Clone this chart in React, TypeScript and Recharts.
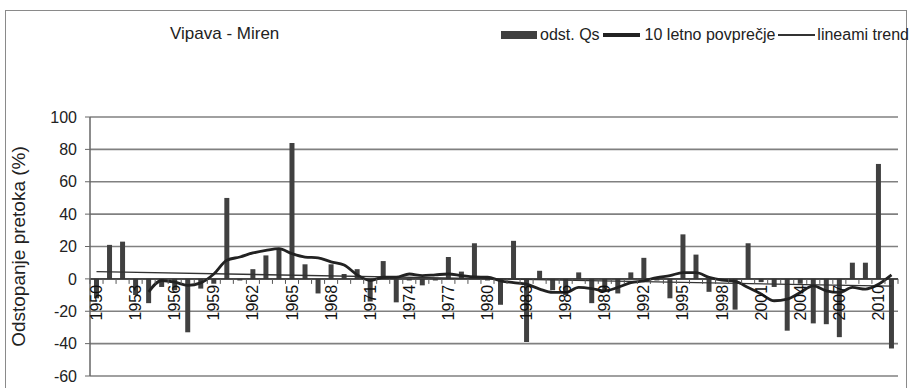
import React from 'react';
import { ComposedChart, Bar, Line, XAxis, YAxis, CartesianGrid, ReferenceLine } from 'recharts';

const years = [
  1950, 1951, 1952, 1953, 1954, 1955, 1956, 1957, 1958, 1959,
  1960, 1961, 1962, 1963, 1964, 1965, 1966, 1967, 1968, 1969,
  1970, 1971, 1972, 1973, 1974, 1975, 1976, 1977, 1978, 1979,
  1980, 1981, 1982, 1983, 1984, 1985, 1986, 1987, 1988, 1989,
  1990, 1991, 1992, 1993, 1994, 1995, 1996, 1997, 1998, 1999,
  2000, 2001, 2002, 2003, 2004, 2005, 2006, 2007, 2008, 2009,
  2010, 2011,
];

// odst. Qs (%)
const deviation = [
  -12, 21, 23, -10, -15, -5, -7, -33, -6, -3,
  50, -1, 6, 14.5, 18, 84, 9, -9, 9, 3,
  6, -14, 11, -14.5, -1, -4, -1, 13.5, 4.5, 22,
  -1, -16, 23.5, -39, 5, -7, -10, 4, -15, -8,
  -9, 4, 13, -1, -12, 27.5, 15, -8, -1, -19,
  22, -2, -5, -32, -3, -27.5, -28, -36, 10, 10,
  71, -43,
];

// 10 letno povprečje
const movingAvg = [
  null, null, null, null, -8, -1, -2, -4, -2.5, 3,
  11.5, 13.5, 16, 17.6, 18.7, 15.6, 13.5, 13, 10.5, 8.6,
  2.5, -1, 1, 1, 3, 2, 2.5, 3, 2, 1.2,
  1, -1.2, -2.3, -3.3, -6.3, -8.4, -8.4, -5.3, -6, -7.4,
  -5.3, -2.3, -1.2, 0.8, 2, 3.9, 3.9, 1, -0.8, -1.6,
  -5.3, -9.4, -13.5, -12.5, -8.4, -4.3, -7.4, -8.4, -5.3, -6.3,
  -3.3, 2.5,
];

// linearni trend, end points
const trendStart = 4.5;
const trendEnd = -4.5;

const yTicks = [-60, -40, -20, 0, 20, 40, 60, 80, 100];

const data = years.map((year, i) => ({ year, qs: deviation[i], avg: movingAvg[i] }));

const FONT = '"Liberation Sans", Arial, sans-serif';
const W = 920;
const H = 388;
const PLOT_TOP = 117;
const PLOT_BOTTOM = 376;
const PLOT_LEFT = 90;
const PLOT_RIGHT = 898;
const ZERO_Y = PLOT_TOP + ((PLOT_BOTTOM - PLOT_TOP) * 100) / 160;
const BAND = (PLOT_RIGHT - PLOT_LEFT) / years.length;

const YearTick = (props: any) => {
  const { x, payload } = props;
  const index = props.index ?? payload.index ?? 0;
  const left = x - BAND / 2;
  return (
    <g>
      <line x1={left} x2={left} y1={ZERO_Y} y2={ZERO_Y + 5} stroke="#555" strokeWidth={1} />
      {index === years.length - 1 && (
        <line x1={x + BAND / 2} x2={x + BAND / 2} y1={ZERO_Y} y2={ZERO_Y + 5} stroke="#555" strokeWidth={1} />
      )}
      {index % 3 === 0 && (
        <text
          transform={`translate(${x},${ZERO_Y + 6}) rotate(-90)`}
          textAnchor="end"
          dominantBaseline="central"
          fontSize={16}
          fontFamily={FONT}
          fill="#111"
        >
          {payload.value}
        </text>
      )}
    </g>
  );
};

export default function App() {
  return (
    <div style={{ position: 'absolute', left: 0, top: 0, width: W, height: H, overflow: 'hidden', background: '#fff', fontFamily: FONT }}>
      {/* outer frame */}
      <div style={{ position: 'absolute', left: 5, top: 10, width: 902, height: 400, border: '1.5px solid #8a8a8a', boxSizing: 'border-box' }} />

      <div style={{ position: 'absolute', left: 170, top: 24, fontSize: 17, color: '#222' }}>Vipava - Miren</div>

      {/* legend */}
      <div style={{ position: 'absolute', left: 501, top: 25, height: 20, display: 'flex', alignItems: 'center', fontSize: 16, color: '#222', whiteSpace: 'nowrap' }}>
        <div style={{ width: 36, height: 8, background: '#404040', marginRight: 3 }} />
        <span>odst. Qs</span>
        <div style={{ width: 37, height: 3.5, background: '#222', margin: '0 5px 0 3px' }} />
        <span>10 letno povprečje</span>
        <div style={{ width: 37, height: 1.5, background: '#333', margin: '0 2px 0 3px' }} />
        <span>lineami trend</span>
      </div>

      <div style={{ position: 'absolute', left: 0, top: 0 }}>
        <ComposedChart width={W} height={H} data={data} margin={{ top: PLOT_TOP, right: W - PLOT_RIGHT, bottom: H - PLOT_BOTTOM - 1, left: 0 }}>
          <CartesianGrid vertical={false} stroke="#808080" strokeWidth={1.6} />
          <XAxis dataKey="year" interval={0} height={1} axisLine={false} tickLine={false} tick={<YearTick />} />
          <YAxis
            domain={[-60, 100]}
            ticks={yTicks}
            width={PLOT_LEFT}
            allowDataOverflow
            tickSize={5}
            tickMargin={8}
            tick={{ fontSize: 16, fill: '#222', fontFamily: FONT }}
            tickLine={{ stroke: '#666' }}
            axisLine={{ stroke: '#666', strokeWidth: 1.5 }}
            label={{
              value: 'Odstopanje pretoka (%)',
              angle: -90,
              position: 'insideLeft',
              offset: 18,
              style: { fontSize: 19, fill: '#222', fontFamily: FONT, textAnchor: 'middle' },
            }}
          />
          <YAxis yAxisId="r" orientation="right" domain={[-60, 100]} width={0} tick={false} tickLine={false} axisLine={{ stroke: '#8a8a8a', strokeWidth: 1.5 }} />
          <Bar dataKey="qs" fill="#404040" barSize={5} isAnimationActive={false} />
          <ReferenceLine y={0} stroke="#333" strokeWidth={1.5} />
          <ReferenceLine
            segment={[{ x: years[0], y: trendStart }, { x: years[years.length - 1], y: trendEnd }]}
            stroke="#333"
            strokeWidth={1.3}
          />
          <Line type="monotone" dataKey="avg" stroke="#222" strokeWidth={2.8} dot={false} activeDot={false} isAnimationActive={false} />
        </ComposedChart>
      </div>
    </div>
  );
}
